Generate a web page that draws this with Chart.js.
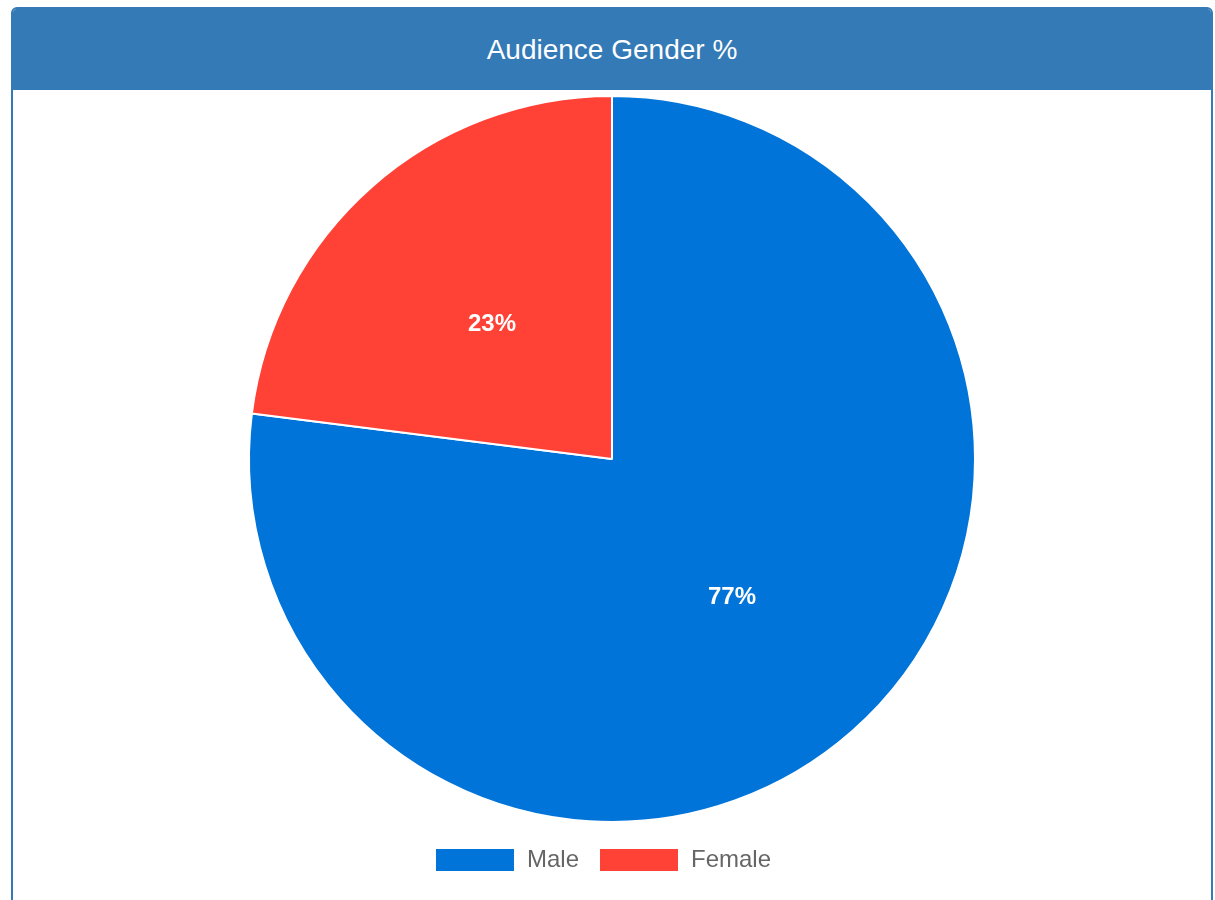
<!DOCTYPE html>
<html>
<head>
<meta charset="utf-8">
<script src="https://cdn.jsdelivr.net/npm/chart.js@4"></script>
<style>
  html, body { margin: 0; padding: 0; background: #fff; width: 1215px; height: 900px; overflow: hidden; }
  .panel { position: absolute; left: 11px; top: 7px; width: 1198px; height: 920px; border: 2px solid #337ab7; border-radius: 6px; box-sizing: content-box; overflow: hidden; }
  .panel-heading { position: absolute; left: 0; top: 0; right: 0; height: 81px; background: #337ab7; color: #fff;
    font-family: "Liberation Sans", Arial, Helvetica, sans-serif; font-size: 28px; line-height: 81px; text-align: center; }
  .chart-box { position: absolute; left: 0; top: 81px; width: 1198px; height: 808px; }
</style>
</head>
<body>
<div class="panel">
  <div class="panel-heading">Audience Gender %</div>
  <div class="chart-box"><canvas id="c"></canvas></div>
</div>
<script>
const categories = ["Male", "Female"];
const values = [77, 23];
const colors = ["#0074D9", "#FF4136"];

const labelPlugin = {
  id: 'sliceLabels',
  afterLayout(chart) {
    // v2-style legend centring (trailing item padding included)
    if (chart.legend) { chart.legend.left -= 9; chart.legend.right -= 9; }
  },
  afterDatasetsDraw(chart) {
    const ctx = chart.ctx;
    const meta = chart.getDatasetMeta(0);
    const data = chart.data.datasets[0].data;
    ctx.save();
    ctx.fillStyle = '#fff';
    ctx.font = 'bold 24px "Liberation Sans", Arial, sans-serif';
    ctx.textAlign = 'center';
    ctx.textBaseline = 'middle';
    meta.data.forEach((arc, i) => {
      const p = arc.tooltipPosition();
      ctx.fillText(data[i] + '%', p.x, p.y + 2);
    });
    ctx.restore();
  }
};

new Chart(document.getElementById('c'), {
  type: 'pie',
  data: {
    labels: categories,
    datasets: [{ data: values, backgroundColor: colors, borderColor: '#fff', borderWidth: 2 }]
  },
  options: {
    responsive: true,
    maintainAspectRatio: false,
    animation: false,
    layout: { padding: { top: 5, bottom: 16 } },
    plugins: {
      tooltip: { enabled: false },
      legend: {
        position: 'bottom',
        title: { display: true, text: '', padding: 2, font: { size: 1, lineHeight: 1 } },
        labels: {
          boxWidth: 80, boxHeight: 24, padding: 20, color: '#666',
          font: { size: 24, family: '"Liberation Sans", Arial, sans-serif' }
        }
      }
    }
  },
  plugins: [labelPlugin]
});
</script>
</body>
</html>
